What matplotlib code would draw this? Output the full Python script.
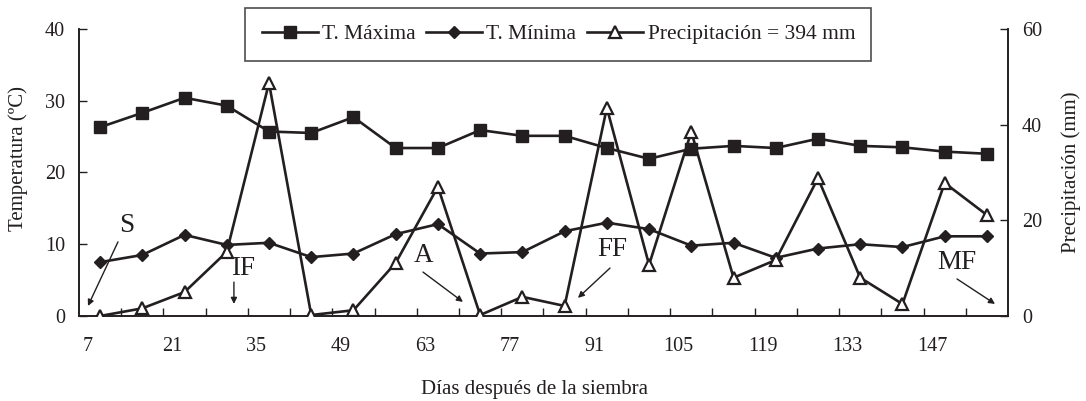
import matplotlib
matplotlib.use("Agg")
import matplotlib.pyplot as plt
from matplotlib.ticker import FixedLocator

# ── datos ──────────────────────────────────────────────────────────────
dias = [7, 14, 21, 28, 35, 42, 49, 56, 63, 70, 77,
        84, 91, 98, 105, 112, 119, 126, 133, 140, 147, 154]
t_max = [26.3, 28.3, 30.4, 29.3, 25.7, 25.5, 27.7, 23.4, 23.4, 25.9, 25.1,
         25.1, 23.4, 21.9, 23.3, 23.7, 23.4, 24.7, 23.7, 23.5, 22.9, 22.6]
t_min = [7.5, 8.5, 11.3, 9.9, 10.2, 8.2, 8.7, 11.4, 12.8, 8.7, 8.9,
         11.8, 13.0, 12.1, 9.8, 10.2, 8.1, 9.4, 10.0, 9.6, 11.1, 11.1]
precip = [0.0, 1.6, 5.0, 13.4, 48.7, 0.2, 1.2, 11.1, 27.0, 0.2, 4.0,
          2.1, 43.5, 10.7, 38.5, 8.0, 11.7, 28.8, 8.0, 2.5, 27.8, 21.1]
etiquetas_x = ["7", "21", "35", "49", "63", "77", "91", "105", "119", "133", "147"]
etapas = ["S", "IF", "A", "FF", "MF"]

INK = "#231f20"
plt.rcParams.update({
    "font.family": ["Liberation Serif", "DejaVu Serif"],
    "text.color": INK, "axes.labelcolor": INK,
    "xtick.color": INK, "ytick.color": INK,
    "axes.edgecolor": INK,
})

fig = plt.figure(figsize=(10.86, 4.01), dpi=100)
ax = fig.add_axes([0.0727, 0.212, 0.8555, 0.716])
ax2 = ax.twinx()

x = list(range(len(dias)))

h1, = ax.plot(x, t_max, color=INK, lw=1.9, marker="s", ms=8.5,
              mfc=INK, mec=INK, label="T. Máxima", zorder=3)
h2, = ax.plot(x, t_min, color=INK, lw=1.9, marker="D", ms=6.5,
              mfc=INK, mec=INK, label="T. Mínima", zorder=3)
h3, = ax2.plot(x, precip, color=INK, lw=1.9, marker="^", ms=9,
               mfc="white", mec=INK, mew=1.6,
               label="Precipitación = 394 mm", zorder=4)

# ── ejes ───────────────────────────────────────────────────────────────
ax.set_xlim(-0.5, len(dias) - 0.5)
ax.set_ylim(0, 40)
ax2.set_ylim(0, 60)
ax.set_yticks([0, 10, 20, 30, 40])
ax2.set_yticks([0, 20, 40, 60])

pos_lab = [2 * k - 0.3 for k in range(len(etiquetas_x))]
ax.set_xticks(pos_lab)
ax.set_xticklabels(etiquetas_x)
ax.xaxis.set_minor_locator(FixedLocator([i + 0.5 for i in range(len(dias) - 1)]))
ax.tick_params(axis="x", which="major", length=0, pad=15, labelsize=14.5)
ax.tick_params(axis="x", which="minor", direction="in", length=6, width=1)
ax.tick_params(axis="y", direction="in", length=6, width=1, pad=10, labelsize=14.5)
ax2.tick_params(axis="y", direction="in", length=6, width=1, pad=10, labelsize=14.5)

for a in (ax, ax2):
    a.spines["top"].set_visible(False)
    for s in ("left", "bottom", "right"):
        a.spines[s].set_linewidth(1.2)

ax.set_xlabel("Días después de la siembra", fontsize=15)
ax.xaxis.set_label_coords(0.49, -0.222)
ax.set_ylabel("Temperatura (ºC)", fontsize=15)
ax.yaxis.set_label_coords(-0.055, 0.55)
ax2.set_ylabel("Precipitación (mm)", fontsize=15)
ax2.yaxis.set_label_coords(1.057, 0.5)

# ── etapas fenológicas ─────────────────────────────────────────────────
txt_pos = [(0.0517, 0.314), (0.1765, 0.167), (0.3714, 0.209), (0.5737, 0.230), (0.9451, 0.188)]
flechas = [((0.042, 0.258), (0.0097, 0.035)),
           ((0.1668, 0.118), (0.1668, 0.042)),
           ((0.3703, 0.153), (0.4133, 0.049)),
           ((0.5716, 0.167), (0.5371, 0.063)),
           ((0.9451, 0.129), (0.986, 0.042))]
for nombre, (tx, ty), (cola, punta) in zip(etapas, txt_pos, flechas):
    ax2.text(tx, ty, nombre, transform=ax.transAxes, fontsize=19.5,
             ha="center", va="center")
    ax2.annotate("", xy=punta, xytext=cola, xycoords="axes fraction",
                 textcoords="axes fraction",
                 arrowprops=dict(arrowstyle="-|>", color=INK, lw=1,
                                 mutation_scale=9, shrinkA=0, shrinkB=0))

leg = ax2.legend(handles=[h1, h2, h3], loc="center", ncol=3,
                 bbox_to_anchor=(0.516, 0.981), fontsize=15.5,
                 frameon=True, fancybox=False, edgecolor=INK,
                 handlelength=2.6, handletextpad=0.2, columnspacing=0.5,
                 borderpad=0.75, borderaxespad=0)
leg.get_frame().set_linewidth(1.2)

fig.savefig("out.png", dpi=100)
